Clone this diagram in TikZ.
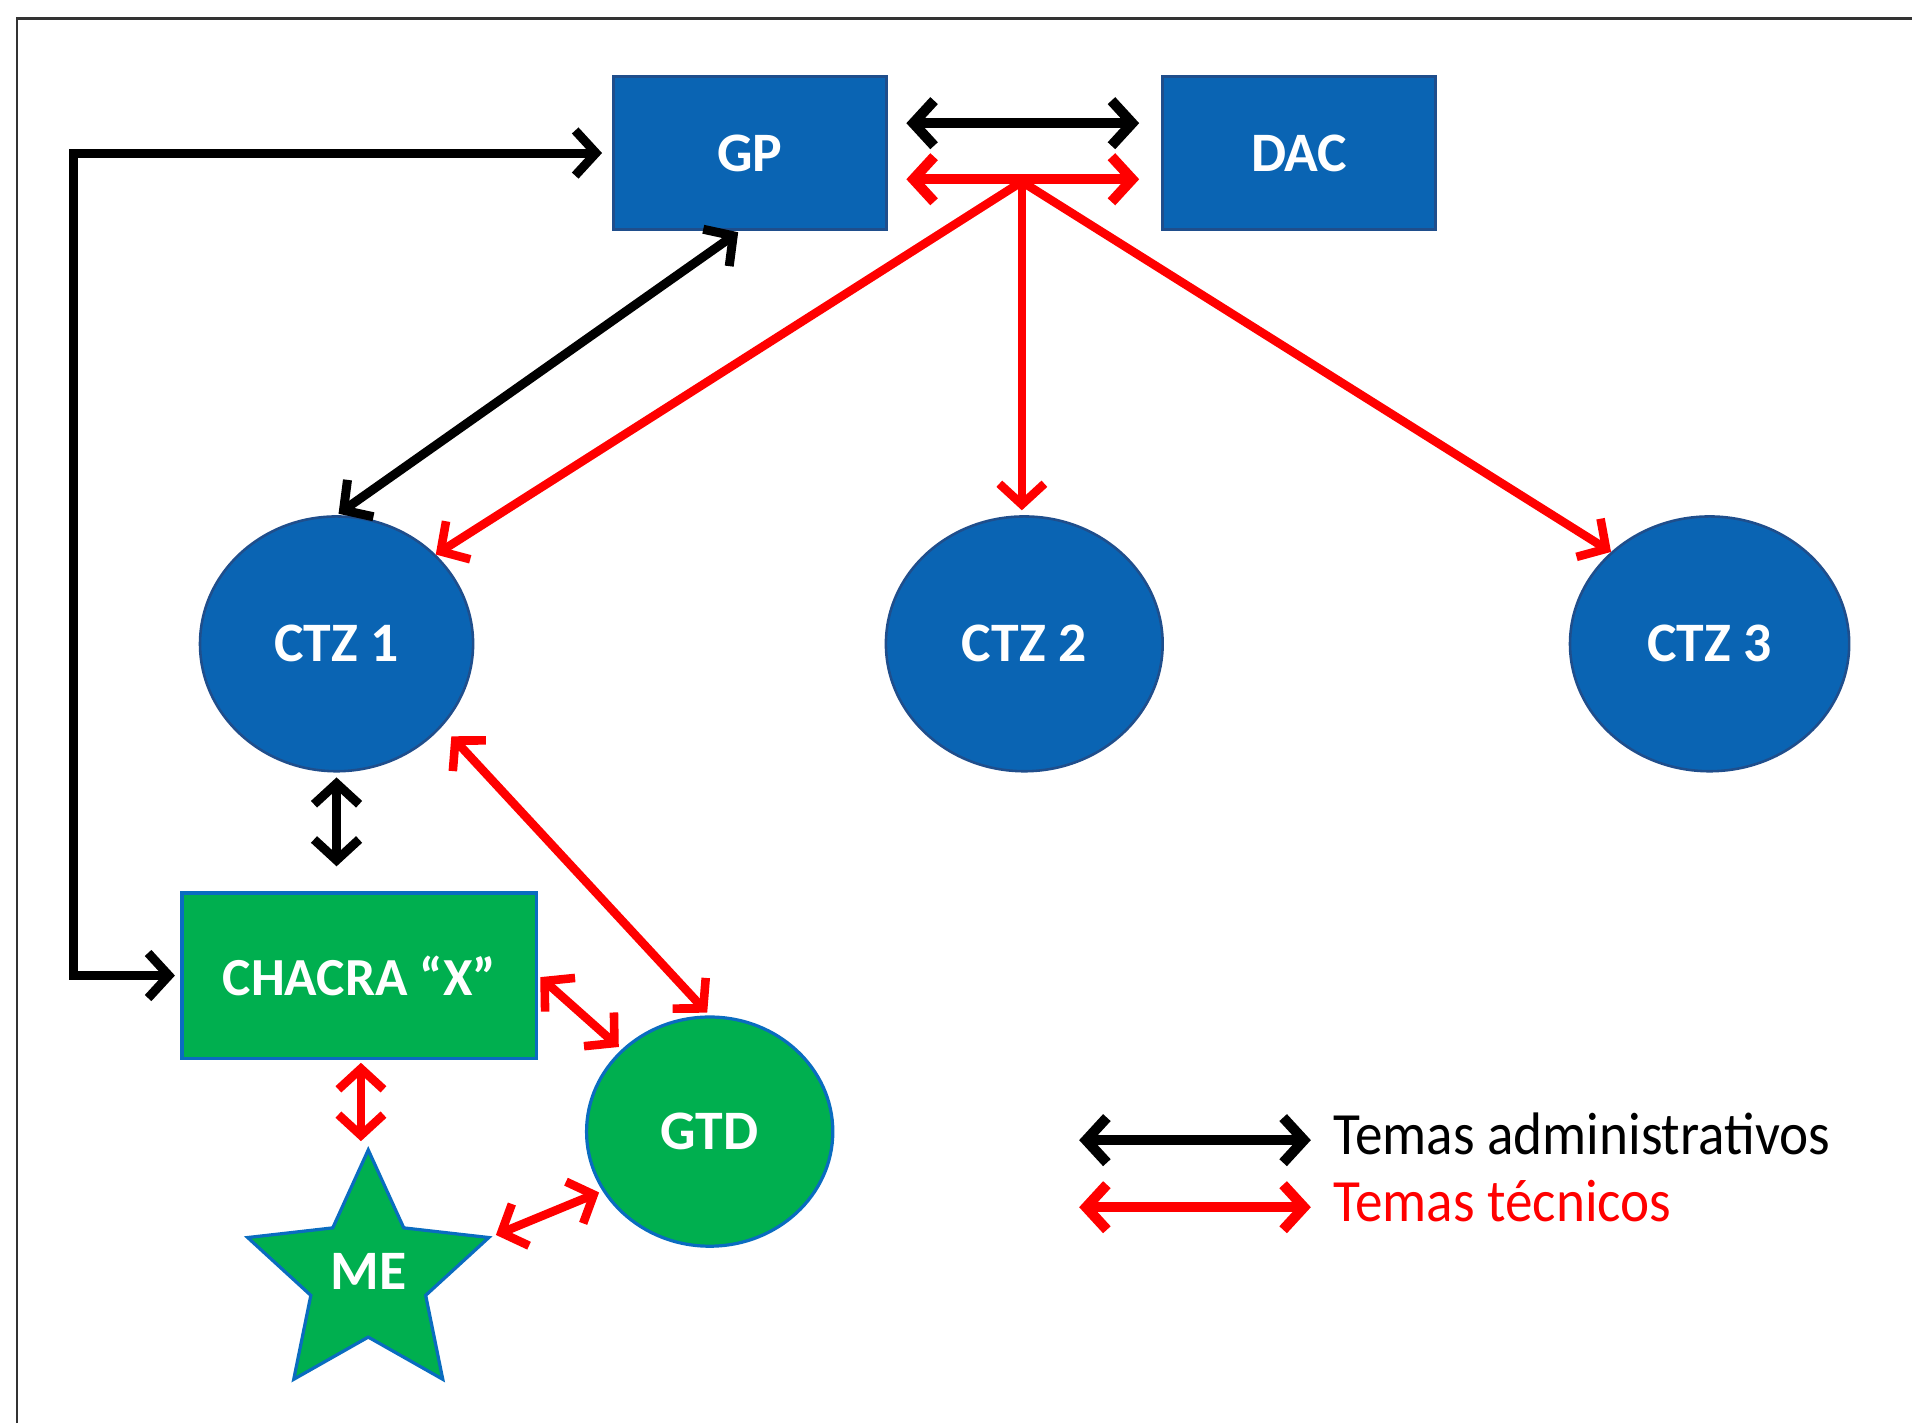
\documentclass[tikz,border=0pt]{standalone}
\usepackage{fontspec}
\setmainfont{Carlito}
\newfontfamily\legendfont[FakeStretch=0.92]{Carlito}
\usetikzlibrary{arrows.meta,shapes.geometric}
\definecolor{boxblue}{HTML}{0A64B3}
\definecolor{edgeblue}{HTML}{1F4E8C}
\definecolor{chacragreen}{HTML}{00AF4F}
\definecolor{greenedge}{HTML}{0A6CC0}
\definecolor{techred}{HTML}{FF0000}
\definecolor{framegray}{HTML}{333333}
\begin{document}
\begin{tikzpicture}[x=0.02cm,y=-0.02cm,
  labelfont/.style={text=white, font=\fontsize{26}{30}\selectfont\bfseries},
  bluebox/.style={rectangle, fill=boxblue, draw=edgeblue, line width=1.5pt,
    minimum width=4.48cm, minimum height=2.5cm, inner sep=0pt, labelfont},
  bluecirc/.style={ellipse, fill=boxblue, draw=edgeblue, line width=1.2pt,
    minimum width=4.48cm, minimum height=4.18cm, inner sep=0pt, labelfont},
  greenbox/.style={rectangle, fill=chacragreen, draw=greenedge, line width=1.8pt,
    minimum width=5.82cm, minimum height=2.72cm, inner sep=0pt, labelfont},
  greencirc/.style={ellipse, fill=chacragreen, draw=greenedge, line width=1.5pt,
    minimum width=4.04cm, minimum height=3.76cm, inner sep=0pt, labelfont},
  greenstar/.style={star, star points=5, star point ratio=2.1, fill=chacragreen,
    draw=greenedge, line width=1.5pt, minimum size=4.16cm, inner sep=0pt},
  tip/.tip={Straight Barb[length=0.34cm,width=0.74cm]},
  admin/.style={draw=black, line width=4.2pt, {tip}-{tip}},
  tech/.style={draw=techred, line width=4pt, {tip}-{tip}},
  techone/.style={draw=techred, line width=4pt, -{tip}},
  legendtext/.style={anchor=west, inner sep=0pt, font=\legendfont\fontsize{28}{30}\selectfont}
]
\useasboundingbox (0,0) rectangle (1568,1167);
\draw[line width=1.3pt, framegray] (14,1167) -- (14,15) -- (1568,15);

% nodes
\node[bluebox] (gp) at (615,125.5) {GP};
\node[bluebox] (dac) at (1065.5,125.5) {DAC};
\node[bluecirc] (ctz1) at (276,528) {CTZ 1};
\node[bluecirc, minimum width=4.54cm] (ctz2) at (840,528) {CTZ 2};
\node[bluecirc, minimum width=4.58cm] (ctz3) at (1402,528) {CTZ 3};
\node[greenbox, font=\fontsize{25}{30}\selectfont\bfseries] (chacra) at (294.5,800) {CHACRA “X”};
\node[greencirc] (gtd) at (582,928) {GTD};
\node[greenstar] (me) at (302,1047) {};
\node[labelfont] (metext) at (302,1043) {ME};

\coordinate (hub) at (838,149);

% administrative (black) connectors
\draw[admin, line width=4.8pt, shorten <=0.3cm, shorten >=0.36cm] ([yshift=0.49cm]gp.east) -- ([yshift=0.49cm]dac.west);
\draw[admin, shorten <=0.04cm, shorten >=0.04cm] ([xshift=-0.16cm]gp.south) -- (ctz1.north);
\draw[admin, shorten <=0.08cm, shorten >=0.16cm] (chacra.west) -- ++(-87,0) |- (gp.west);
\draw[admin, shorten <=0.08cm, shorten >=0.4cm] (ctz1.south) -- (ctz1.south |- chacra.north);

% technical (red) connectors
\draw[tech, line width=4.8pt, shorten <=0.3cm, shorten >=0.36cm] ([yshift=-0.43cm]gp.east) -- ([yshift=-0.43cm]dac.west);
\draw[techone] (hub) -- (ctz1.42);
\draw[techone, shorten >=0.08cm] (hub) -- (hub |- ctz2.north);
\draw[techone] (hub) -- (ctz3.137);
\draw[tech, shorten <=0.22cm, shorten >=0.06cm] (ctz1.-38) -- (gtd.north);
\draw[tech, shorten <=0.04cm, shorten >=0.06cm] (chacra.east) -- (gtd.137);
\draw[tech, shorten <=0.04cm, shorten >=0.08cm] ([xshift=0.03cm]chacra.south) -- ([xshift=0.03cm]chacra.south |- me.north);
\draw[tech, shorten <=0.06cm, shorten >=0.06cm] (me.outer point 5) -- (gtd.209);

% legend
\node[legendtext, text=black] (ladmin) at (1093,930) {Temas administrativos};
\node[legendtext, text=techred] (ltech) at (1093,985) {Temas técnicos};
\coordinate (la) at (885,935);
\coordinate (lt) at (885,990);
\draw[admin, line width=4.8pt, shorten >=0.36cm] (la) -- (la -| ladmin.west);
\draw[tech, line width=4.8pt, shorten >=0.36cm] (lt) -- (lt -| ltech.west);
\end{tikzpicture}
\end{document}
